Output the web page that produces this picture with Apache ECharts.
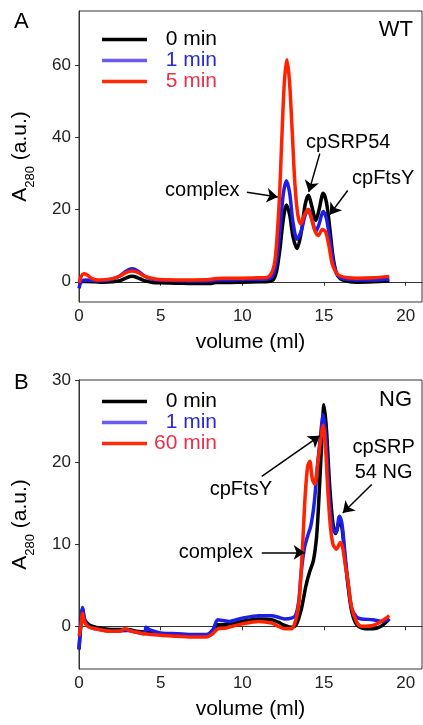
<!DOCTYPE html>
<html>
<head>
<meta charset="utf-8">
<script src="https://cdn.jsdelivr.net/npm/echarts@6/dist/echarts.min.js"></script>
<style>
  html, body { margin: 0; padding: 0; background: #fff; }
  #chart { width: 423px; height: 725px; }
</style>
</head>
<body>
<div id="chart"></div>
<script>
// Elution profiles (A280 vs elution volume) for WT and NG complexes
const volumeTicks = [0, 5, 10, 15, 20];
const wtTicks = [0, 20, 40, 60];
const ngTicks = [0, 10, 20, 30];

const wtNames = ['0 min', '1 min', '5 min'];
const ngNames = ['0 min', '1 min', '60 min'];

// WT, 0 min
const wt0 = [[0,-0.6],[0.2,0.1],[0.5,0.1],[1,0],[1.5,-0.1],[2,0],[2.5,0.3],[2.9,1.1],[3.25,1.5],[3.6,1.1],[4,0.3],[4.5,-0.2],[5,-0.3],[6,-0.4],[7,-0.5],[8,-0.5],[8.4,-0.2],[9,-0.2],[10,-0.1],[11,0],[11.6,0.1],[11.9,0.6],[12.1,3],[12.3,9],[12.5,17],[12.7,21.3],[12.9,18.5],[13.1,12.5],[13.35,9.2],[13.6,13.5],[13.85,21.5],[14.05,24],[14.25,21],[14.5,17],[14.7,20],[14.95,24.5],[15.15,22],[15.35,15],[15.55,7],[15.75,2.5],[16,0.8],[16.5,0.1],[17,-0.1],[18,0],[19,0.2]];
// WT, 1 min
const wt1 = [[0,-1.8],[0.15,0.2],[0.4,0.5],[1,0.3],[1.5,0.3],[2,0.7],[2.5,1.6],[2.9,3],[3.25,3.6],[3.6,3],[4,1.6],[4.5,0.7],[5,0.4],[6,0.3],[7,0.2],[8,0.2],[8.4,0.5],[9,0.5],[10,0.6],[11,0.6],[11.6,0.8],[11.9,2],[12.1,6],[12.3,14],[12.5,24],[12.7,28],[12.9,24.5],[13.1,16.5],[13.35,11.8],[13.6,14],[13.85,18.5],[14.05,20],[14.25,17.5],[14.5,14],[14.7,16],[14.95,19.5],[15.15,17.5],[15.35,12],[15.55,6],[15.75,2.5],[16,1.1],[16.5,0.6],[17,0.5],[18,0.5],[19,0.7]];
// WT, 5 min
const wt5 = [[0,-0.3],[0.15,1.6],[0.3,2.2],[0.5,1.9],[0.8,0.9],[1.2,0.5],[2,0.8],[2.5,1.6],[2.9,2.6],[3.25,3],[3.6,2.6],[4,1.6],[4.5,0.9],[5,0.6],[6,0.5],[7,0.5],[8,0.6],[8.4,0.9],[9,1],[10,1],[11,1.1],[11.5,1.2],[11.8,2.5],[12.0,6],[12.15,14],[12.28,24],[12.42,40],[12.57,55],[12.72,61.5],[12.88,56],[13.05,42],[13.22,27],[13.4,18.5],[13.58,16],[13.8,18.5],[14.0,20],[14.2,18],[14.45,14],[14.65,12.8],[14.9,14.5],[15.1,13.8],[15.3,10],[15.5,5],[15.75,2.5],[16,1.6],[16.5,1.1],[17,1],[18,1.1],[19,1.5]];

// NG, 0 min
const ng0 = [[0,-2.8],[0.12,0.4],[0.22,2.1],[0.35,0.8],[0.6,0.2],[1,-0.1],[1.5,-0.3],[2,-0.4],[2.5,-0.4],[3,-0.4],[3.5,-0.6],[4,-0.7],[4.5,-0.8],[5,-0.9],[6,-1.0],[7,-1.1],[7.8,-1.1],[8.2,-0.7],[8.5,0.2],[8.8,0.2],[9.2,0.3],[10,0.6],[11,0.9],[11.8,0.8],[12.2,0.5],[12.6,0.1],[13,-0.1],[13.3,0.2],[13.6,2],[13.9,5],[14.1,6.5],[14.35,8],[14.55,11],[14.7,16],[14.85,22],[15.0,27],[15.15,24],[15.35,17],[15.55,12.5],[15.72,11.3],[15.95,12.8],[16.1,12],[16.3,8],[16.5,4.5],[16.7,1.8],[17,0.2],[17.5,-0.3],[18,-0.3],[18.5,0],[19,0.9]];
// NG, 1 min
const ng1 = [[0,-2.8],[0.12,0.5],[0.22,2.3],[0.35,0.7],[0.6,0],[1,-0.3],[2,-0.6],[3,-0.5],[4,-0.9],[4.1,-0.1],[4.3,-0.4],[5,-0.8],[6,-0.9],[7,-1.0],[7.8,-1.0],[8.2,-0.4],[8.5,0.8],[8.8,0.7],[9.2,0.6],[10,1.0],[11,1.3],[11.8,1.3],[12.2,1.1],[12.6,0.9],[13,1.0],[13.25,1.3],[13.45,3],[13.6,6.5],[13.8,9.5],[14.0,11],[14.2,12.3],[14.4,15],[14.6,19.5],[14.8,23.5],[14.95,25.8],[15.12,23],[15.32,16],[15.52,12],[15.72,11.4],[15.95,13.4],[16.1,12.5],[16.3,8.5],[16.5,4.8],[16.7,2.2],[17,1.1],[17.3,0.9],[18,0.8],[18.5,0.6],[19,0.9]];
// NG, 60 min
const ng60 = [[0,-1.2],[0.12,0],[0.22,1.6],[0.35,0.5],[0.6,-0.1],[1,-0.3],[1.5,-0.5],[2,-0.6],[2.5,-0.6],[2.8,-0.3],[3.2,-0.6],[4,-0.9],[5,-1.1],[6,-1.2],[7,-1.3],[7.8,-1.3],[8.2,-0.9],[8.5,-0.3],[9,-0.2],[10,0.3],[11,0.6],[11.8,0.4],[12.2,0],[12.6,-0.3],[13,-0.3],[13.2,0.3],[13.4,2],[13.55,5],[13.72,11],[13.85,16],[14.0,19.5],[14.13,20.1],[14.28,18],[14.43,17.3],[14.6,19.5],[14.78,22.5],[14.95,24.5],[15.1,21.5],[15.25,16],[15.4,12],[15.55,10],[15.76,9.4],[16.0,10.2],[16.15,9.5],[16.3,7.5],[16.47,5.5],[16.68,2.4],[16.98,0.6],[17.3,0],[18,0.1],[18.5,0.6],[19,1.3]];

// Peak labels: text anchor and arrow (tail -> head), in data units
const wtNotes = [
  { text: 'complex', at: [7.55, 25.3], from: [10.28, 24.8], to: [12.17, 23.5] },
  { text: 'cpSRP54', at: [16.48, 38.6], from: [14.74, 35.5], to: [14.07, 24.9] },
  { text: 'cpFtsY', at: [18.62, 28.6], from: [16.45, 25.3], to: [15.35, 18.6] }
];
const ngNotes = [
  { text: 'cpFtsY', at: [9.91, 16.67], from: [11.19, 18.26], to: [14.74, 23.2] },
  { text: 'cpSRP\n54 NG', at: [18.65, 20.27], from: [17.92, 17.28], to: [16.15, 13.8] },
  { text: 'complex', at: [8.38, 8.99], from: [11.19, 9.0], to: [13.82, 9.0] }
];

const FONT = 'Liberation Sans, Arial, Helvetica, sans-serif';
const colors = ['#000000', '#1e1ee6', '#ff2200'];
const legendLine = ['#000000', '#6a5cf2', '#ff2a0a'];
const legendText = ['#000000', '#2828d8', '#e8304a'];

function noteMarks(notes) {
  return {
    markLine: {
      silent: true,
      symbol: ['none', 'arrow'],
      symbolSize: 11,
      lineStyle: { color: '#000', width: 1.5, type: 'solid' },
      label: { show: false },
      data: notes.map(n => [{ coord: n.from }, { coord: n.to }])
    },
    markPoint: {
      silent: true,
      symbol: 'circle',
      symbolSize: 1,
      itemStyle: { color: 'rgba(0,0,0,0)' },
      label: {
        show: true, position: 'inside', color: '#000',
        fontFamily: FONT, fontSize: 20, lineHeight: 25
      },
      data: notes.map(n => ({ coord: n.at, label: { formatter: n.text } }))
    }
  };
}

function makeSeries(list, names, gridIdx, notes) {
  return list.map((d, i) => Object.assign({
    name: names[i],
    type: 'line',
    xAxisIndex: gridIdx,
    yAxisIndex: gridIdx,
    data: d,
    smooth: 0.3,
    symbol: 'none',
    lineStyle: { width: 3.5, color: colors[i] },
    itemStyle: { color: colors[i] },
    z: 2 + i
  }, i === list.length - 1 ? noteMarks(notes) : {}));
}

function makeLegend(names, top) {
  return {
    orient: 'vertical',
    left: 102,
    top: top,
    padding: 0,
    icon: 'rect',
    itemWidth: 45,
    itemHeight: 3.5,
    itemGap: 0,
    selectedMode: false,
    data: names.map((n, i) => ({
      name: n,
      textStyle: { color: legendText[i] },
      itemStyle: { color: legendLine[i], borderWidth: 0 }
    })),
    formatter: n => '{r|' + n + '}',
    textStyle: {
      fontFamily: FONT, fontSize: 21, lineHeight: 21,
      rich: { r: { width: 65, align: 'right', fontSize: 21, lineHeight: 21, fontFamily: FONT } }
    }
  };
}

function xAx(gridIdx) {
  return {
    type: 'value', gridIndex: gridIdx, min: 0, max: 21,
    name: 'volume (ml)', nameLocation: 'middle', nameGap: 30,
    nameTextStyle: { fontFamily: FONT, fontSize: 21, color: '#000' },
    axisLine: { lineStyle: { color: '#333', width: 1 } },
    axisTick: { inside: false, length: 4, customValues: volumeTicks, lineStyle: { color: '#333' } },
    axisLabel: { customValues: volumeTicks, fontFamily: FONT, fontSize: 17, color: '#222', margin: 6 },
    splitLine: { show: false }
  };
}

function yAx(gridIdx, min, max, ticks) {
  return {
    type: 'value', gridIndex: gridIdx, min: min, max: max,
    name: '{a|A}{s|280}{a| (a.u.)}', nameLocation: 'middle', nameGap: 42,
    nameTextStyle: {
      rich: {
        a: { fontFamily: FONT, fontSize: 21, color: '#000', lineHeight: 20, verticalAlign: 'middle' },
        s: { fontFamily: FONT, fontSize: 13, color: '#000', lineHeight: 34, verticalAlign: 'bottom' }
      }
    },
    axisLine: { lineStyle: { color: '#333', width: 1 } },
    axisTick: { inside: false, length: 4, customValues: ticks, lineStyle: { color: '#333' } },
    axisLabel: { customValues: ticks, fontFamily: FONT, fontSize: 17, color: '#222', margin: 8 },
    splitLine: { show: false }
  };
}

function panelText(text, x, y, align, size) {
  return {
    type: 'text', x: x, y: y, silent: true,
    style: { text: text, fill: '#000', font: size + 'px ' + FONT, align: align, verticalAlign: 'middle' }
  };
}

const chart = echarts.init(document.getElementById('chart'), null, { renderer: 'canvas' });
chart.setOption({
  animation: false,
  backgroundColor: '#fff',
  grid: [
    { left: 79, top: 11, width: 343, height: 291, show: true, borderColor: '#333', borderWidth: 1, backgroundColor: 'transparent' },
    { left: 79, top: 380, width: 343, height: 289, show: true, borderColor: '#333', borderWidth: 1, backgroundColor: 'transparent' }
  ],
  xAxis: [xAx(0), xAx(1)],
  yAxis: [yAx(0, -5.6, 75, wtTicks), yAx(1, -5.2, 30, ngTicks)],
  legend: [makeLegend(wtNames, 29), makeLegend(ngNames, 391)],
  series: [].concat(
    makeSeries([wt0, wt1, wt5], wtNames, 0, wtNotes),
    makeSeries([ng0, ng1, ng60], ngNames, 1, ngNotes)
  ),
  graphic: [
    panelText('A', 14, 22, 'left', 22),
    panelText('B', 14, 383, 'left', 22),
    panelText('WT', 413, 30, 'right', 22),
    panelText('NG', 412, 400, 'right', 22)
  ]
});
</script>
</body>
</html>
